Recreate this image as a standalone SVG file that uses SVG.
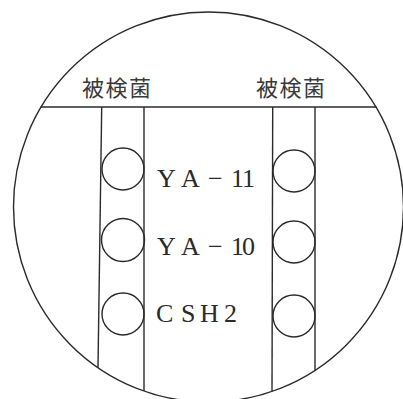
<svg xmlns="http://www.w3.org/2000/svg" width="403" height="399" viewBox="0 0 403 399">
<style>
.ln{fill:none;stroke:#2a2a2a;stroke-width:1.4}
.well{fill:none;stroke:#2a2a2a;stroke-width:1.4}
.lab{font-family:"Liberation Serif",serif;font-size:26px;fill:#2a2a2a}
.jp{font-family:"Noto Sans CJK JP","Noto Sans CJK SC",sans-serif;font-size:22px;fill:#3a3a3a;letter-spacing:1.5px}
</style>
<rect width="403" height="399" fill="#ffffff"/>
<g id="plate">
<circle cx="208.5" cy="207" r="195" class="ln"/>
</g>
<g id="connectors">
<line x1="40.6" y1="107" x2="376.4" y2="107" class="ln"/>
<line x1="101.7" y1="107" x2="98" y2="367.7" class="ln"/>
<line x1="144" y1="107" x2="144" y2="391" class="ln"/>
<line x1="272.7" y1="107" x2="272" y2="391.4" class="ln"/>
<line x1="315" y1="107" x2="315" y2="370.3" class="ln"/>
</g>
<g id="label-left"><text class="jp" x="82" y="96">被検菌</text></g>
<g id="label-right"><text class="jp" x="256" y="96">被検菌</text></g>
<g id="well-l1"><circle cx="123" cy="169" r="21" class="well"/></g>
<g id="well-l2"><circle cx="123" cy="240" r="21.5" class="well"/></g>
<g id="well-l3"><circle cx="123" cy="314" r="21" class="well"/></g>
<g id="well-r1"><circle cx="294" cy="171" r="21" class="well"/></g>
<g id="well-r2"><circle cx="294" cy="242" r="21" class="well"/></g>
<g id="well-r3"><circle cx="294" cy="316" r="21" class="well"/></g>
<g id="strain-1"><text class="lab" x="157 176 181 208 231 242" y="187">Y A−11</text></g>
<g id="strain-2"><text class="lab" x="157 176 181 208 231 242" y="255">Y A−10</text></g>
<g id="strain-3"><text class="lab" x="156 174 181 197 200 224" y="322">C S H2</text></g>
</svg>
